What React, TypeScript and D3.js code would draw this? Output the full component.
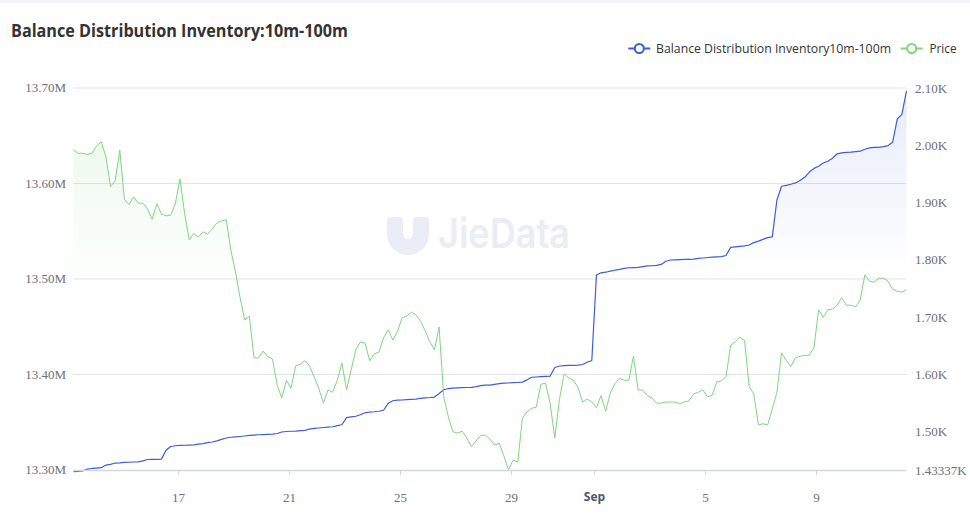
import React from "react";
import * as d3 from "d3";

// 4-hourly samples starting at seriesStart
const seriesStart = "2023-08-13 06:00";
const stepHours = 4;

// Balance Distribution Inventory 10m-100m, in millions
const balanceValues = [
  13.2982, 13.2986, 13.299, 13.301, 13.3016, 13.302, 13.3024, 13.3052, 13.3059, 13.3073,
  13.3075, 13.3079, 13.3081, 13.3084, 13.3086, 13.3095, 13.311, 13.3112, 13.3112, 13.3114,
  13.3206, 13.3246, 13.3254, 13.3257, 13.3259, 13.3261, 13.3263, 13.327, 13.3277, 13.3286,
  13.3293, 13.3305, 13.3321, 13.3335, 13.3343, 13.3347, 13.3351, 13.3356, 13.3362, 13.3366,
  13.3369, 13.3371, 13.3374, 13.3376, 13.3382, 13.3398, 13.3403, 13.3406, 13.3408, 13.3412,
  13.3415, 13.3429, 13.3435, 13.344, 13.3445, 13.3449, 13.3453, 13.3465, 13.3474, 13.3548,
  13.3557, 13.3563, 13.3579, 13.3599, 13.3607, 13.361, 13.3615, 13.3626, 13.3698, 13.3725,
  13.3732, 13.3733, 13.3736, 13.374, 13.3743, 13.3751, 13.3756, 13.3759, 13.3764, 13.3801,
  13.384, 13.3853, 13.3858, 13.386, 13.3862, 13.3864, 13.3866, 13.3873, 13.3884, 13.3888,
  13.3888, 13.3896, 13.3904, 13.3909, 13.3911, 13.3914, 13.3916, 13.392, 13.3944, 13.3971,
  13.3974, 13.3977, 13.398, 13.3984, 13.4073, 13.4089, 13.4093, 13.4095, 13.4096, 13.4098,
  13.4105, 13.4128, 13.4147, 13.5042, 13.5065, 13.5071, 13.5082, 13.5092, 13.51, 13.5111,
  13.5118, 13.512, 13.5122, 13.5129, 13.5137, 13.5139, 13.5142, 13.5153, 13.5186, 13.5199,
  13.5201, 13.5203, 13.5205, 13.5206, 13.5208, 13.5216, 13.522, 13.5225, 13.5229, 13.5232,
  13.5235, 13.5246, 13.5331, 13.5336, 13.5342, 13.5347, 13.5356, 13.5381, 13.5396, 13.5415,
  13.5433, 13.5441, 13.5827, 13.5971, 13.5981, 13.5992, 13.6006, 13.6031, 13.6065, 13.612,
  13.6158, 13.6181, 13.6215, 13.6233, 13.6264, 13.6311, 13.6321, 13.6325, 13.6328, 13.6333,
  13.6338, 13.6359, 13.6373, 13.6378, 13.6379, 13.6386, 13.6397, 13.6431, 13.6675, 13.6724,
  13.6969,
];

const priceValues = [
  1992, 1986, 1986, 1984, 1986, 1999, 2006, 1980, 1928, 1938,
  1992, 1906, 1897, 1910, 1899, 1899, 1889, 1871, 1898, 1880,
  1877, 1878, 1898, 1941, 1882, 1835, 1846, 1840, 1849, 1845,
  1854, 1865, 1868, 1870, 1817, 1779, 1734, 1695, 1702, 1629,
  1629, 1641, 1631, 1627, 1582, 1559, 1590, 1576, 1615, 1618,
  1624, 1615, 1596, 1576, 1550, 1573, 1569, 1590, 1620, 1573,
  1608, 1643, 1657, 1655, 1624, 1636, 1639, 1664, 1678, 1660,
  1675, 1699, 1702, 1709, 1704, 1693, 1676, 1657, 1643, 1683,
  1561, 1526, 1500, 1498, 1501, 1489, 1474, 1484, 1494, 1494,
  1487, 1477, 1480, 1458, 1433.37, 1451, 1447, 1524, 1535, 1541,
  1543, 1583, 1585, 1549, 1489, 1556, 1601, 1594, 1590, 1578,
  1552, 1557, 1552, 1542, 1563, 1536, 1568, 1584, 1593, 1590,
  1590, 1632, 1573, 1573, 1563, 1559, 1550, 1550, 1552, 1552,
  1552, 1549, 1552, 1554, 1566, 1569, 1573, 1561, 1564, 1587,
  1589, 1596, 1651, 1657, 1665, 1660, 1579, 1566, 1512, 1514,
  1512, 1540, 1569, 1638, 1625, 1614, 1629, 1632, 1633, 1634,
  1646, 1713, 1700, 1713, 1714, 1721, 1734, 1721, 1721, 1718,
  1730, 1774, 1763, 1761, 1768, 1768, 1763, 1749, 1745, 1744,
  1748,
];

const leftTicks = [13.3, 13.4, 13.5, 13.6, 13.7];
const rightTicks = [1433.37, 1500, 1600, 1700, 1800, 1900, 2000, 2100];
const dateTicks = ["2023-08-17", "2023-08-21", "2023-08-25", "2023-08-29", "2023-09-01", "2023-09-05", "2023-09-09"];
const seriesNames = ["Balance Distribution Inventory10m-100m", "Price"];
const chartTitle = "Balance Distribution Inventory:10m-100m";

const BLUE = "#3d5ed8";
const GREEN = "#7fd67f";
const AXIS_FONT = "'Liberation Serif', 'Times New Roman', serif";
const SANS = "'Open Sans', 'Noto Sans', sans-serif";

export default function App() {
  const plot = { left: 73.5, right: 906.5, top: 88, bottom: 470 };

  const parseTime = d3.timeParse("%Y-%m-%d %H:%M");
  const parseDay = d3.timeParse("%Y-%m-%d");
  const t0 = parseTime(seriesStart) as Date;
  const times = balanceValues.map((_, i) => d3.timeHour.offset(t0, i * stepHours));

  const x = d3.scaleTime().domain([times[0], times[times.length - 1]]).range([plot.left, plot.right]);
  const yL = d3.scaleLinear().domain([13.3, 13.7]).range([plot.bottom, plot.top]);
  const yR = d3.scaleLinear().domain([1433.37, 2100]).range([plot.bottom, plot.top]);

  const balLine = d3.line<number>().x((_, i) => x(times[i])).y((d) => yL(d));
  const balArea = d3.area<number>().x((_, i) => x(times[i])).y0(yL(13.3)).y1((d) => yL(d));
  const priceLine = d3.line<number>().x((_, i) => x(times[i])).y((d) => yR(d));
  const priceArea = d3.area<number>().x((_, i) => x(times[i])).y0(yR(1433.37)).y1((d) => yR(d));

  // axis min is shown unrounded (1.43337K), the rest with two decimals
  const fmtRight = (v: number) =>
    v === rightTicks[0] ? `${+(v / 1000).toPrecision(6)}K` : `${(v / 1000).toFixed(2)}K`;

  const ticks = dateTicks.map((s) => parseDay(s) as Date);

  // legend layout
  const leg = [
    { name: seriesNames[0], color: BLUE, icon: 639.3, text: 656, len: 235 },
    { name: seriesNames[1], color: GREEN, icon: 911.7, text: 929.5, len: 27 },
  ];

  return (
    <div style={{ position: "absolute", left: 0, top: 0 }}>
      <svg width={970} height={517} style={{ display: "block", background: "#fff" }}>
        <defs>
          <linearGradient id="balFill" x1="0" y1="0" x2="0" y2="1">
            <stop offset="0%" stopColor={BLUE} stopOpacity={0.12} />
            <stop offset="48%" stopColor={BLUE} stopOpacity={0} />
          </linearGradient>
          <linearGradient id="priceFill" x1="0" y1="0" x2="0" y2="1">
            <stop offset="0%" stopColor={GREEN} stopOpacity={0.13} />
            <stop offset="45%" stopColor={GREEN} stopOpacity={0} />
          </linearGradient>
        </defs>

        <rect x={0} y={0} width={970} height={3} fill="#f4f5fa" />

        <text x={11} y={37.3} fontFamily={SANS} fontWeight={700} fontSize={17} fill="#333"
          textLength={337} lengthAdjust="spacingAndGlyphs">
          {chartTitle}
        </text>

        {leg.map((l) => (
          <g key={l.name}>
            <line x1={l.icon - 11} x2={l.icon + 11} y1={48.5} y2={48.5} stroke={l.color} strokeWidth={2} />
            <circle cx={l.icon} cy={48.5} r={4.5} fill="#fff" stroke={l.color} strokeWidth={2} />
            <text x={l.text} y={52.5} fontFamily={SANS} fontSize={12} fill="#333"
              textLength={l.len} lengthAdjust="spacingAndGlyphs">
              {l.name}
            </text>
          </g>
        ))}

        {/* grid */}
        {leftTicks.slice(1).map((v) => (
          <line key={v} x1={plot.left} x2={plot.right} y1={yL(v)} y2={yL(v)} stroke="#e0e3ea" strokeWidth={1} />
        ))}

        {/* watermark */}
        <g fill="#eaedf5">
          <path d="M387,221 a4,4 0 0 1 4,-4 h8 a4,4 0 0 1 4,4 v13 a5,5 0 0 0 10,0 v-13 a4,4 0 0 1 4,-4 h8 a4,4 0 0 1 4,4 v13 a21,21 0 0 1 -42,0 Z" />
          <text x={438} y={248} fontFamily="Inter, 'Open Sans', sans-serif" fontWeight={600} fontSize={41}
            textLength={132} lengthAdjust="spacingAndGlyphs">
            JieData
          </text>
        </g>

        {/* series */}
        <path d={balArea(balanceValues) || ""} fill="url(#balFill)" />
        <path d={balLine(balanceValues) || ""} fill="none" stroke={BLUE} strokeWidth={1.2} strokeLinejoin="round" />
        <path d={priceArea(priceValues) || ""} fill="url(#priceFill)" />
        <path d={priceLine(priceValues) || ""} fill="none" stroke={GREEN} strokeWidth={1} strokeLinejoin="round" />

        {/* x axis */}
        <line x1={plot.left} x2={plot.right} y1={plot.bottom + 0.5} y2={plot.bottom + 0.5} stroke="#d3d7e0" strokeWidth={1.5} />
        {ticks.map((d) => {
          const tx = Math.round(x(d)) + 0.5;
          const monthStart = d.getDate() === 1;
          return (
            <g key={d.toISOString()}>
              <line x1={tx} x2={tx} y1={plot.bottom} y2={plot.bottom + 5} stroke="#d3d7e0" />
              {monthStart ? (
                <text x={tx} y={500.5} textAnchor="middle" fontFamily={SANS} fontWeight={700} fontSize={12} fill="#505766">
                  {d3.timeFormat("%b")(d)}
                </text>
              ) : (
                <text x={tx} y={501.5} textAnchor="middle" fontFamily={AXIS_FONT} fontSize={13} fill="#6e7079">
                  {d3.timeFormat("%-d")(d)}
                </text>
              )}
            </g>
          );
        })}

        {/* left axis labels */}
        {leftTicks.map((v) => (
          <text key={v} x={66} y={yL(v) + 4} textAnchor="end" fontFamily={AXIS_FONT} fontSize={13} fill="#6e7079">
            {v.toFixed(2)}M
          </text>
        ))}

        {/* right axis labels */}
        {rightTicks.map((v) => (
          <text key={v} x={915} y={yR(v) + 4.5} fontFamily={AXIS_FONT} fontSize={13} fill="#6e7079">
            {fmtRight(v)}
          </text>
        ))}
      </svg>
    </div>
  );
}
